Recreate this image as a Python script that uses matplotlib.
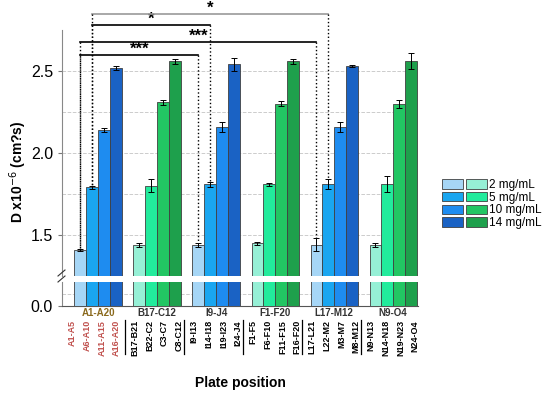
import numpy as np
import matplotlib
matplotlib.use("Agg")
import matplotlib.pyplot as plt
from matplotlib.legend_handler import HandlerTuple
from matplotlib.patches import Patch
import matplotlib.transforms as mtransforms

plt.rcParams['font.family'] = ['Liberation Sans', 'DejaVu Sans']

groups = ['A1-A20', 'B17-C12', 'I9-J4', 'F1-F20', 'L17-M12', 'N9-O4']
sublabels = [['A1-A5', 'A6-A10', 'A11-A15', 'A16-A20'],
             ['B17-B21', 'B22-C2', 'C3-C7', 'C8-C12'],
             ['I9-I13', 'I14-I18', 'I19-I23', 'I24-J4'],
             ['F1-F5', 'F6-F10', 'F11-F15', 'F16-F20'],
             ['L17-L21', 'L22-M2', 'M3-M7', 'M8-M12'],
             ['N9-N13', 'N14-N18', 'N19-N23', 'N24-O4']]
concs = ['2 mg/mL', '5 mg/mL', '10 mg/mL', '14 mg/mL']
values = [[1.41, 1.79, 2.14, 2.52],
          [1.44, 1.80, 2.31, 2.56],
          [1.44, 1.81, 2.16, 2.54],
          [1.45, 1.81, 2.30, 2.56],
          [1.44, 1.81, 2.16, 2.53],
          [1.44, 1.81, 2.30, 2.56]]
errors = [[0.005, 0.008, 0.015, 0.012],
          [0.012, 0.04, 0.015, 0.015],
          [0.012, 0.015, 0.03, 0.04],
          [0.01, 0.01, 0.015, 0.015],
          [0.04, 0.03, 0.03, 0.008],
          [0.012, 0.05, 0.025, 0.05]]
blues = ['#a6d6f6', '#1aa6f0', '#1e8cf0', '#1a62c4']
greens = ['#96f0d6', '#22eb9c', '#22c663', '#1ea04c']
# significance brackets: (group, bar) start, (group, bar) end, height, label, colour
brackets = [((0, 1), (4, 1), 2.85, '*', '#999999'),
            ((0, 1), (2, 1), 2.78, '*', 'black'),
            ((0, 0), (4, 0), 2.675, '***', 'black'),
            ((0, 0), (2, 0), 2.60, '***', 'black')]

fig = plt.figure(figsize=(5.5, 3.95), dpi=100)
W, H = 550.0, 395.0
x0, x1 = 62 / W, 418 / W
ax = fig.add_axes([x0, 1 - 276 / H, x1 - x0, (276 - 30) / H])
axb = fig.add_axes([x0, 1 - 306 / H, x1 - x0, (306 - 282) / H])

w = 0.2
offs = (np.arange(4) - 1.5) * w
pos = np.arange(len(groups))

for a in (ax, axb):
    for gi in range(len(groups)):
        cols = blues if gi % 2 == 0 else greens
        for k in range(4):
            a.bar(pos[gi] + offs[k], values[gi][k], width=w, color=cols[k],
                  edgecolor='#404040', linewidth=0.6, zorder=3)
            if a is ax:
                a.errorbar(pos[gi] + offs[k], values[gi][k], yerr=errors[gi][k],
                           color='black', capsize=2.2, elinewidth=0.7,
                           capthick=0.7, zorder=4)
    a.set_xlim(-0.61, 5.42)
    a.set_xticks([])
    a.tick_params(axis='y', labelsize=11.5, length=3, color='#777777')
    for s in ('top', 'right'):
        a.spines[s].set_visible(False)
    a.spines['left'].set_color('#888888')

ax.set_ylim(1.25, 2.75)
ax.set_yticks([1.5, 2.0, 2.5])
ax.set_yticks([1.75, 2.25], minor=True)
ax.tick_params(axis='y', which='minor', length=0)
ax.grid(axis='y', which='both', linestyle='--', color='#cccccc', linewidth=0.7, zorder=0)
ax.spines['bottom'].set_visible(False)

axb.set_ylim(0, 0.147)
axb.set_yticks([0.0])
axb.set_yticklabels(['0.0'])
axb.set_yticks([0.075], minor=True)
axb.tick_params(axis='y', which='minor', length=0)
axb.grid(axis='y', which='minor', linestyle='--', color='#cccccc', linewidth=0.7, zorder=0)
axb.spines['bottom'].set_color('#555555')

# break marks on left spine
for yy in (273, 279):
    fig.add_artist(plt.Line2D([(x0 * W - 4) / W, (x0 * W + 3) / W],
                              [1 - (yy + 3) / H, 1 - (yy - 3) / H],
                              color='#333333', linewidth=0.8))

# significance brackets
for (g1, b1), (g2, b2), yh, lab, col in brackets:
    xa = pos[g1] + offs[b1]
    xb = pos[g2] + offs[b2]
    ax.plot([xa, xb], [yh, yh], color=col, linewidth=1.2, clip_on=False, zorder=5)
    for g, b, xx in ((g1, b1, xa), (g2, b2, xb)):
        ax.plot([xx, xx], [yh, values[g][b] + errors[g][b]], color='black',
                linestyle=':', linewidth=1.0, clip_on=False, zorder=5)
    ax.text((xa + xb) / 2, yh + 0.035, lab, ha='center', va='center',
            fontsize=12, fontweight='bold', clip_on=False)

# group and sub-position labels
tr = mtransforms.blended_transform_factory(axb.transData, fig.transFigure)
sub_offs = (np.arange(4) - 1.5) * 0.25
for gi, g in enumerate(groups):
    gcol = '#8a6a1e' if gi == 0 else '#333333'
    scol = '#c0504d' if gi == 0 else 'black'
    axb.text(pos[gi], 1 - 313 / H, g, transform=tr, ha='center', va='center',
             fontsize=7, fontweight='bold', color=gcol)
    for k in range(4):
        axb.text(pos[gi] + sub_offs[k] - (0.06 if gi == 0 else 0), 1 - 320 / H,
                 sublabels[gi][k], transform=tr, rotation=90, ha='center',
                 va='top', fontsize=6.5, fontweight='bold', color=scol)
    if gi < len(groups) - 1:
        axb.plot([pos[gi] + 0.46, pos[gi] + 0.46], [1 - 320 / H, 1 - 354 / H],
                 transform=tr, color='black', linewidth=0.9, clip_on=False)

fig.text(240 / W, 1 - 383 / H, 'Plate position', ha='center', va='center',
         fontsize=10, fontweight='bold')
fig.text(18 / W, 1 - 172 / H, 'D x10$^{-6}$ (cm?s)', ha='center', va='center',
         rotation=90, fontsize=10, fontweight='bold')

handles = [(Patch(facecolor=blues[k], edgecolor='#404040', linewidth=0.6),
            Patch(facecolor=greens[k], edgecolor='#404040', linewidth=0.6))
           for k in range(4)]
fig.legend(handles, concs, handler_map={tuple: HandlerTuple(ndivide=None, pad=0.25)},
           loc='upper left', bbox_to_anchor=(434 / W, 1 - 171 / H), frameon=False,
           fontsize=8.5, handlelength=3.8, handleheight=0.85, labelspacing=0.05,
           handletextpad=0.2, borderpad=0.2)

fig.savefig('out.png', dpi=100)
